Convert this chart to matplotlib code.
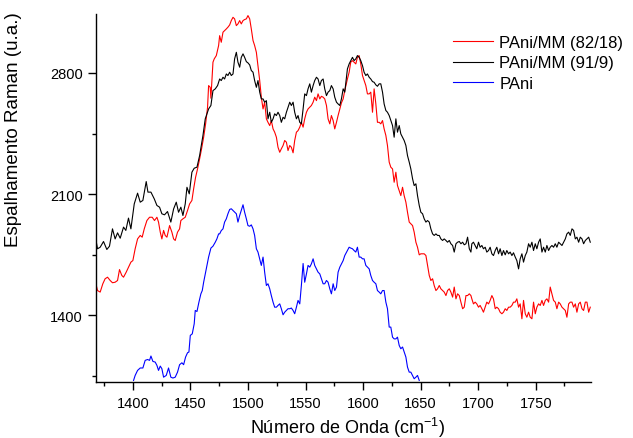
import matplotlib
matplotlib.use('Agg')
import matplotlib.pyplot as plt

# fonte parecida com Arial
plt.rcParams['font.family'] = ['Liberation Sans', 'DejaVu Sans']
plt.rcParams['mathtext.fontset'] = 'custom'
plt.rcParams['mathtext.rm'] = 'Liberation Sans'

# numero de onda (cm-1) - trecho inicial de cada curva
wn_black_ini = [1367.2, 1369.3, 1371.6, 1374.5, 1377.4, 1379.7, 1382.3, 1384.6, 1386.7, 1389.0,
                1391.9, 1393.9, 1396.2, 1398.3, 1401.2, 1404.1, 1406.4, 1408.7, 1411.6, 1413.1,
                1415.7, 1418.6, 1420.9, 1423.2, 1425.2, 1427.5, 1430.1, 1433.0, 1435.4, 1437.7,
                1439.7, 1441.7, 1443.5, 1445.5, 1447.0, 1449.0, 1451.3, 1453.3, 1455.7, 1458.0,
                1460.9, 1462.9, 1464.4, 1465.8, 1467.8, 1469.6, 1471.6, 1473.6]
wn_red_ini = [1367.2, 1369.3, 1371.6, 1373.9, 1375.9, 1378.0, 1380.3, 1382.3, 1384.6, 1386.7,
              1388.4, 1390.4, 1391.9, 1394.2, 1396.2, 1398.3, 1400.0, 1402.0, 1404.1, 1406.4,
              1408.1, 1409.9, 1412.2, 1414.5, 1416.8, 1418.8, 1420.9, 1422.3, 1423.8, 1425.2,
              1426.7, 1428.1, 1429.6, 1431.9, 1433.9, 1435.4, 1436.8, 1438.8, 1440.6, 1441.7,
              1443.5, 1445.5, 1447.5, 1449.3, 1451.3, 1452.8, 1454.5, 1456.2, 1458.0, 1459.7,
              1461.5, 1463.2, 1464.9, 1465.8, 1467.2, 1467.8, 1469.6, 1470.7, 1472.5, 1474.5]
wn_blue_ini = [1400.6, 1402.0, 1404.1, 1406.4, 1408.7, 1410.7, 1412.8, 1414.5, 1415.7, 1417.4,
               1419.4, 1420.9, 1422.3, 1423.8, 1425.2, 1426.7, 1429.0, 1431.0, 1433.0, 1434.8,
               1436.8, 1438.8, 1440.6, 1442.6, 1444.1, 1445.8, 1447.5, 1448.7, 1449.9, 1451.6,
               1453.3, 1454.2, 1455.7, 1457.4, 1459.1, 1460.3, 1461.5, 1463.2, 1464.9, 1465.8,
               1467.8, 1469.6, 1471.6, 1473.0, 1474.5]

# numero de onda comum (resto do espectro)
wn_mid = [1475.4, 1476.8, 1478.3, 1479.7, 1481.2, 1482.6, 1484.1, 1485.5, 1487.0, 1488.4,
          1489.9, 1491.3, 1492.8, 1494.2, 1495.7, 1497.1, 1498.6, 1500.0, 1501.5, 1502.9,
          1504.4, 1505.8, 1507.3, 1508.7, 1510.2, 1511.6, 1513.1, 1514.5, 1516.0, 1517.4,
          1518.9, 1520.3, 1521.8, 1523.2, 1524.7, 1526.1, 1527.6, 1529.0, 1530.5, 1531.9,
          1533.4, 1534.8, 1536.3, 1537.7, 1539.2, 1540.6, 1542.1, 1543.5, 1545.0, 1546.4,
          1547.9, 1549.3, 1550.8, 1552.2, 1553.7, 1555.1, 1556.6, 1558.0, 1559.5, 1560.9,
          1562.4, 1563.8, 1565.3, 1566.7, 1568.2, 1569.6, 1571.1, 1572.5, 1574.0, 1575.4,
          1576.9, 1578.3, 1579.8, 1581.2, 1582.7, 1584.1]
wn_hi = [1586.4, 1587.9, 1589.3, 1590.8, 1592.2, 1593.7, 1595.1, 1596.6, 1598.0, 1599.5,
         1600.9, 1602.4, 1603.8, 1605.3, 1606.7, 1608.2, 1609.6, 1611.1, 1612.5, 1614.0,
         1615.4, 1616.9, 1618.3, 1619.8, 1621.2, 1622.7, 1624.1, 1625.6, 1627.0, 1628.5,
         1629.9, 1631.4, 1632.8, 1634.3, 1635.7, 1637.2, 1638.6, 1640.1, 1641.5, 1643.0,
         1644.4, 1645.9, 1647.3, 1648.8, 1650.2, 1651.7, 1653.1, 1654.6, 1656.0, 1657.5,
         1658.9, 1660.4, 1661.8, 1663.3, 1664.7, 1666.2, 1667.6, 1669.1, 1670.5, 1672.0,
         1673.4, 1674.9, 1676.3, 1677.8, 1679.2, 1680.7, 1682.1, 1683.6, 1685.0, 1686.5,
         1687.9, 1689.4, 1690.8, 1692.3, 1693.7]
wn_end = [1694.5, 1695.9, 1697.4, 1698.8, 1700.3, 1701.7, 1703.2, 1704.6, 1706.1, 1707.5,
          1709.0, 1710.4, 1711.9, 1713.3, 1714.8, 1716.2, 1717.7, 1719.1, 1720.6, 1722.0,
          1723.5, 1724.9, 1726.4, 1727.8, 1729.3, 1730.7, 1732.2, 1733.6, 1735.1, 1736.5,
          1738.0, 1739.4, 1740.9, 1742.3, 1743.8, 1745.2, 1746.7, 1748.1, 1749.6, 1751.0,
          1752.5, 1753.9, 1755.4, 1756.8, 1758.3, 1759.7, 1761.2, 1762.6, 1764.1, 1765.5,
          1767.0, 1768.4, 1769.9, 1771.3, 1772.8, 1774.2, 1775.7, 1777.1, 1778.6, 1780.0,
          1781.5, 1782.9, 1784.4, 1785.8, 1787.3, 1788.7, 1790.2, 1791.6, 1793.1, 1794.5,
          1796.0, 1797.4]

# PAni/MM (91/9) - preto
black = [1862, 1785, 1794, 1827, 1781, 1800, 1900, 1842, 1877, 1846,
         1910, 1891, 1962, 1900, 2044, 2106, 2054, 2064, 2173, 2112,
         2112, 2073, 2035, 2025, 1987, 1981, 2000, 1939, 2015, 2054,
         1996, 2025, 1977, 2044, 2140, 2102, 2227, 2250, 2256, 2323,
         2439, 2535, 2564, 2592, 2612, 2698, 2708, 2727,
         2765, 2756, 2775, 2765, 2794, 2785, 2804, 2785, 2794, 2881,
         2919, 2862, 2833, 2890, 2910, 2890, 2865, 2858, 2846, 2814,
         2804, 2756, 2717, 2756, 2689, 2650, 2650, 2631, 2640, 2535,
         2573, 2515, 2535, 2564, 2554, 2573, 2554, 2515, 2544, 2535,
         2573, 2602, 2631, 2612, 2631, 2573, 2535, 2554, 2515, 2506,
         2592, 2679, 2669, 2708, 2737, 2689, 2727, 2756, 2775, 2765,
         2727, 2756, 2765, 2708, 2669, 2689, 2698, 2727, 2708, 2660,
         2631, 2621, 2612, 2650, 2708, 2689,
         2823, 2852, 2871, 2890, 2871, 2881, 2900, 2890, 2871, 2842,
         2804, 2785, 2794, 2775, 2765, 2750, 2746, 2731, 2723, 2737,
         2737, 2689, 2621, 2583, 2573, 2554, 2525, 2496, 2429, 2535,
         2458, 2496, 2448, 2429, 2410, 2381, 2323, 2285, 2246, 2189,
         2150, 2160, 2092, 2035, 1996, 1987, 1958, 1939, 1948, 1939,
         1900, 1871, 1862, 1871, 1862, 1862, 1842, 1833, 1842, 1833,
         1823, 1833, 1814, 1804, 1766, 1814, 1823, 1827, 1814, 1823,
         1808, 1814, 1852, 1785, 1766,
         1814, 1823, 1804, 1785, 1823, 1794, 1804, 1785, 1794, 1766,
         1775, 1794, 1756, 1746, 1775, 1794, 1756, 1785, 1746, 1775,
         1750, 1775, 1756, 1766, 1746, 1762, 1737, 1717, 1669, 1727,
         1756, 1708, 1746, 1766, 1814, 1794, 1823, 1775, 1814, 1785,
         1823, 1842, 1766, 1794, 1766, 1804, 1775, 1794, 1804, 1794,
         1814, 1794, 1823, 1814, 1804, 1823, 1842, 1871, 1881, 1862,
         1900, 1891, 1842, 1852, 1823, 1852, 1842, 1814, 1833, 1842,
         1852, 1823]

# PAni/MM (82/18) - vermelho
red = [1602, 1544, 1535, 1583, 1612, 1621, 1602, 1589, 1592, 1602,
       1665, 1631, 1621, 1650, 1679, 1708, 1717, 1785, 1842, 1862,
       1852, 1900, 1948, 1967, 1967, 1948, 1967, 1939, 1881, 1842,
       1891, 1862, 1852, 1919, 1881, 1842, 1833, 1881, 1900, 1948,
       1958, 1967, 2006, 2044, 2064, 2131, 2198, 2246, 2304, 2362,
       2429, 2506, 2602, 2727, 2717, 2654, 2862, 2881, 2900, 2958,
       3015, 2977, 3035, 3044, 3054, 3064, 3077, 3102, 3121, 3112,
       3073, 3083, 3102, 3083, 3102, 3108, 3112, 3131, 3112, 3054,
       2987, 2958, 2919, 2842, 2756, 2660, 2592, 2631, 2535, 2515,
       2496, 2525, 2477, 2458, 2429, 2371, 2342, 2362, 2381, 2410,
       2400, 2352, 2381, 2371, 2339, 2410, 2458, 2467, 2487, 2515,
       2487, 2535, 2573, 2592, 2602, 2612, 2631, 2660, 2640, 2679,
       2650, 2665, 2660, 2650, 2612, 2535, 2506, 2554, 2525, 2477,
       2515, 2554, 2592, 2627, 2650, 2698,
       2765, 2804, 2862, 2871, 2862, 2852, 2890, 2900, 2852, 2785,
       2756, 2727, 2679, 2679, 2689, 2573, 2708, 2621, 2515, 2515,
       2506, 2525, 2477, 2439, 2381, 2285, 2256, 2246, 2169, 2227,
       2150, 2121, 2092, 2140, 2092, 2054, 1996, 1939, 1929, 1919,
       1881, 1823, 1794, 1750, 1756, 1756, 1756, 1746, 1689, 1631,
       1602, 1612, 1573, 1544, 1554, 1573, 1554, 1544, 1535, 1515,
       1544, 1554, 1535, 1506, 1564, 1496, 1525, 1515, 1477, 1439,
       1448, 1515, 1515, 1525, 1515,
       1496, 1467, 1477, 1467, 1448, 1458, 1439, 1419, 1448, 1477,
       1467, 1487, 1515, 1496, 1439, 1448, 1439, 1419, 1410, 1419,
       1439, 1429, 1448, 1448, 1458, 1477, 1477, 1496, 1448, 1467,
       1381, 1487, 1410, 1390, 1419, 1390, 1381, 1477, 1410, 1448,
       1467, 1458, 1487, 1458, 1487, 1496, 1477, 1564, 1525, 1487,
       1477, 1439, 1477, 1467, 1448, 1439, 1429, 1390, 1467, 1477,
       1477, 1448, 1467, 1419, 1467, 1477, 1439, 1429, 1477, 1477,
       1419, 1448]

# PAni - azul
blue = [1025, 1054, 1083, 1097, 1097, 1141, 1146, 1141, 1166, 1135,
        1131, 1112, 1083, 1108, 1093, 1044, 1054, 1097, 1044, 1039,
        1044, 1073, 1116, 1127, 1116, 1160, 1185, 1189, 1285, 1294,
        1352, 1429, 1423, 1477, 1525, 1544, 1592, 1650, 1708, 1737,
        1789, 1800, 1823, 1842, 1871,
        1871, 1890, 1900, 1939, 1958, 1987, 2012, 2016, 2006, 1996,
        1987, 1939, 1977, 2006, 2039, 1996, 1958, 1919, 1915, 1923,
        1900, 1862, 1785, 1766, 1727, 1689, 1737, 1650, 1573, 1583,
        1554, 1515, 1477, 1448, 1448, 1458, 1467, 1439, 1404, 1419,
        1429, 1439, 1439, 1443, 1429, 1410, 1448, 1487, 1467, 1573,
        1700, 1592, 1640, 1689, 1679, 1698, 1727, 1689, 1669, 1650,
        1640, 1612, 1583, 1583, 1602, 1592, 1554, 1525, 1583, 1544,
        1564, 1650, 1679, 1698, 1717, 1746,
        1775, 1794, 1789, 1785, 1775, 1766, 1794, 1737, 1737, 1727,
        1727, 1689, 1679, 1669, 1631, 1602, 1592, 1583, 1544, 1535,
        1525, 1544, 1544, 1477, 1439, 1333, 1333, 1275, 1265, 1265,
        1275, 1227, 1208, 1218, 1189, 1160, 1102, 1073, 1073, 1054,
        1035, 1044, 1054, 1025]

wn_black = wn_black_ini + wn_mid + wn_hi + wn_end
wn_red = wn_red_ini + wn_mid + wn_hi + wn_end
wn_blue = wn_blue_ini + wn_mid + wn_hi[:44]

fig = plt.figure(figsize=(6.33, 4.39), dpi=100)
ax = fig.add_axes([0.1517, 0.1287, 0.7819, 0.8371])

ax.plot(wn_red, red, color='#ff0000', lw=0.8, label='PAni/MM (82/18)')
ax.plot(wn_black, black, color='black', lw=0.8, label='PAni/MM (91/9)')
ax.plot(wn_blue, blue, color='#0000ff', lw=0.8, label='PAni')

ax.set_xlim(1368, 1798)
ax.set_ylim(1019, 3140)
ax.set_xticks([1400, 1450, 1500, 1550, 1600, 1650, 1700, 1750])
ax.set_xticks([1375, 1425, 1475, 1525, 1575, 1625, 1675, 1725, 1775], minor=True)
ax.set_yticks([1400, 2100, 2800])
ax.set_yticks([1050, 1750, 2450], minor=True)

ax.spines['top'].set_visible(False)
ax.spines['right'].set_visible(False)
ax.spines['left'].set_linewidth(1.0)
ax.spines['bottom'].set_linewidth(1.0)
ax.tick_params(which='major', direction='out', length=5.5, width=1, labelsize=10.5)
ax.tick_params(which='minor', direction='out', length=3, width=1)
ax.tick_params(axis='x', pad=5)
ax.tick_params(axis='y', pad=4)

ax.set_xlabel('Número de Onda (cm$^{\\mathrm{-1}}$)', fontsize=13)
ax.xaxis.set_label_coords(0.509, -0.092)
ax.set_ylabel('Espalhamento Raman (u.a.)', fontsize=13.5)
ax.yaxis.set_label_coords(-0.1495, 0.687)

ax.legend(loc='upper left', bbox_to_anchor=(0.7206, 0.944), frameon=False, fontsize=12,
          handlelength=2.44, handletextpad=0.36, labelspacing=0.35, borderpad=0, borderaxespad=0)

plt.savefig('out.png', dpi=100)
